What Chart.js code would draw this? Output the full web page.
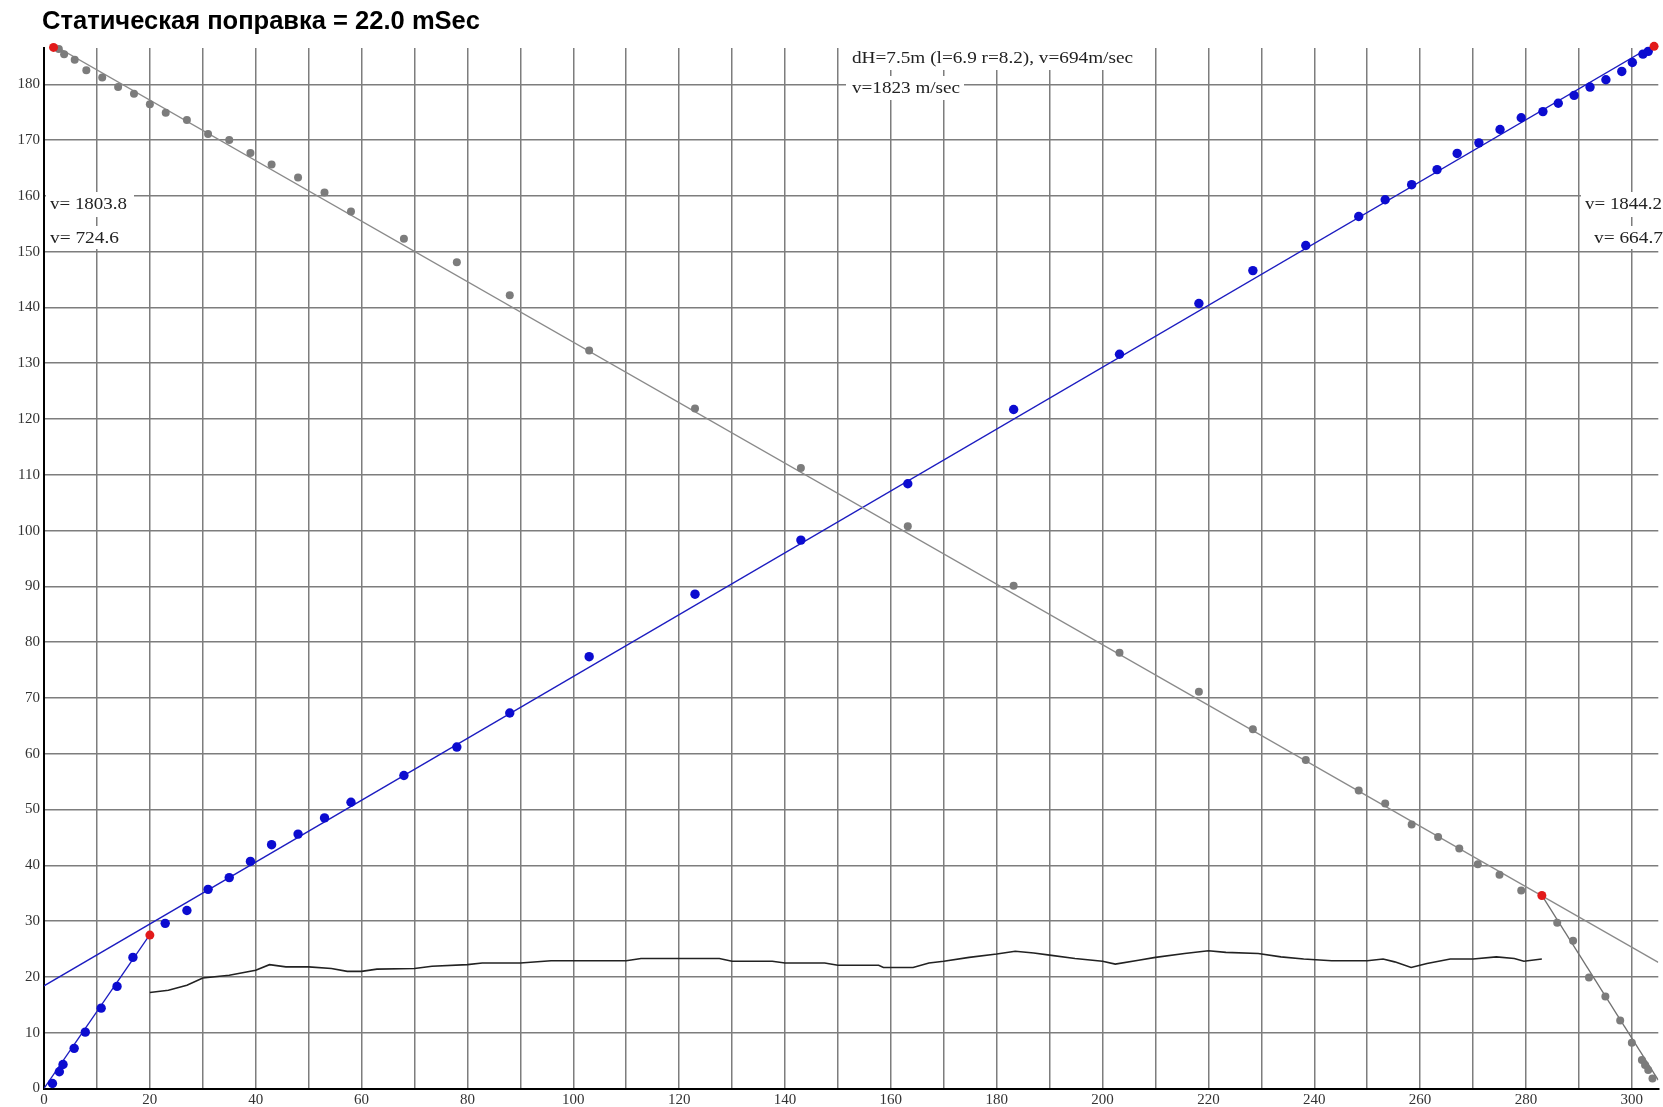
<!DOCTYPE html>
<html><head><meta charset="utf-8">
<script src="https://cdn.jsdelivr.net/npm/chart.js@4.4.0/dist/chart.umd.min.js"></script>
<style>html,body{margin:0;padding:0;background:#fff;overflow:hidden}canvas{display:block}</style>
</head><body>
<canvas id="c" width="1663" height="1107"></canvas>
<script>
// ---- data ----
const titleText = 'Статическая поправка = 22.0 mSec';
const annotTexts = ['dH=7.5m (l=6.9 r=8.2), v=694m/sec', 'v=1823 m/sec', 'v= 1803.8', 'v= 724.6', 'v= 1844.2', 'v= 664.7'];
const xTickLabels = [0, 20, 40, 60, 80, 100, 120, 140, 160, 180, 200, 220, 240, 260, 280, 300];
const yTickLabels = [0, 10, 20, 30, 40, 50, 60, 70, 80, 90, 100, 110, 120, 130, 140, 150, 160, 170, 180];

const blueX = [1.6, 2.9, 3.6, 5.7, 7.8, 10.8, 13.8, 16.8, 22.9, 27, 31, 35, 39, 43, 48, 53, 58, 68, 78, 88, 103, 123, 143, 163.2, 183.2, 203.2, 218.2, 228.4, 238.4, 248.4, 253.4, 258.4, 263.2, 267.0, 271.1, 275.1, 279.1, 283.2, 286.1, 289.1, 292.1, 295.1, 298.1, 300.1, 302.1, 303.1];
const blueY = [0.9, 3.0, 4.3, 7.2, 10.1, 14.4, 18.3, 23.5, 29.6, 31.9, 35.7, 37.8, 40.7, 43.7, 45.6, 48.5, 51.3, 56.1, 61.2, 67.3, 77.4, 88.6, 98.3, 108.4, 121.7, 131.6, 140.7, 146.6, 151.1, 156.3, 159.3, 162.0, 164.7, 167.6, 169.5, 171.9, 174.0, 175.1, 176.6, 178.0, 179.5, 180.8, 182.3, 183.9, 185.4, 185.9];

const grayX = [2.8, 3.8, 5.8, 8, 11, 14, 17, 20, 23, 27, 31, 35, 39, 43, 48, 53, 58, 68, 78, 88, 103, 123, 143, 163.2, 183.2, 203.2, 218.2, 228.4, 238.4, 248.4, 253.4, 258.4, 263.4, 267.4, 270.9, 275.0, 279.1, 285.9, 288.9, 291.9, 295.0, 297.8, 300.0, 301.9, 302.5, 303.1, 303.9];
const grayY = [186.3, 185.4, 184.4, 182.5, 181.2, 179.5, 178.3, 176.4, 174.9, 173.6, 171.1, 170.0, 167.7, 165.6, 163.3, 160.6, 157.2, 152.3, 148.1, 142.2, 132.3, 121.9, 111.2, 100.8, 90.1, 78.1, 71.1, 64.4, 58.9, 53.4, 51.1, 47.3, 45.1, 43.0, 40.2, 38.3, 35.5, 29.7, 26.5, 19.9, 16.5, 12.2, 8.2, 5.1, 4.2, 3.3, 1.8];

const redX = [1.8, 20, 283, 304.2];
const redY = [186.6, 27.5, 34.6, 186.8];

const blueSteepX = [0, 20];
const blueSteepY = [0, 27.6];
const blueLongX = [0, 305];
const blueLongY = [18.4, 187.5];
const graySteepX = [283, 305];
const graySteepY = [34.6, 1.5];
const grayLongX = [0, 305];
const grayLongY = [188, 22.6];

const delayX = [20, 23.5, 27, 30, 35, 40, 42.6, 45.7, 50, 54.3, 57.3, 60, 62.9, 70, 73.3, 80, 82.8, 90, 95.8, 100, 110, 112.8, 120, 127.6, 130, 137.6, 140, 147.5, 150, 151.6, 157.7, 158.6, 164.2, 167.2, 170, 174.8, 180, 183.5, 187, 190, 194.8, 200, 202.4, 206.8, 210, 215.5, 220, 223.3, 229.4, 233.7, 238, 243.3, 250, 253, 255.2, 258.3, 261.3, 265.7, 270, 274.4, 277.8, 279.6, 283];
const delayY = [17.2, 17.6, 18.5, 19.8, 20.3, 21.2, 22.2, 21.8, 21.8, 21.5, 21.0, 21.0, 21.4, 21.5, 21.9, 22.2, 22.5, 22.5, 22.9, 22.9, 22.9, 23.3, 23.3, 23.3, 22.8, 22.8, 22.5, 22.5, 22.1, 22.1, 22.1, 21.7, 21.7, 22.5, 22.8, 23.5, 24.1, 24.6, 24.3, 23.9, 23.3, 22.8, 22.3, 23.0, 23.5, 24.2, 24.7, 24.4, 24.2, 23.6, 23.2, 22.9, 22.9, 23.2, 22.7, 21.7, 22.4, 23.2, 23.2, 23.6, 23.3, 22.8, 23.2];

// ---- helpers ----
const pts = (xs, ys) => xs.map((x, i) => ({x, y: ys[i]}));

function fitText(ctx, text, x, y, w, font, color) {
  ctx.save();
  ctx.font = font;
  ctx.fillStyle = color;
  ctx.textBaseline = 'middle';
  ctx.textAlign = 'left';
  const m = ctx.measureText(text).width;
  ctx.translate(x, y);
  ctx.scale(w / m, 1);
  ctx.fillText(text, 0, 0);
  ctx.restore();
}

const annotPlugin = {
  id: 'annot',
  beforeDatasetsDraw(chart) {
    const ctx = chart.ctx;
    // [textIndex, textLeft, centerY, width, boxLeft, boxRight, boxTop, boxBottom]
    const specs = [
      [0, 852, 59, 281, 846, 1140, 48, 70],
      [1, 852, 89, 108, 846, 964, 76, 100],
      [2, 50, 205, 77, 46, 134, 192, 217],
      [3, 50, 239, 69, 46, 126, 226, 249],
      [4, 1585, 205, 77, 1581, 1663, 192, 217],
      [5, 1594, 239, 69, 1590, 1663, 226, 249]
    ];
    ctx.save();
    ctx.fillStyle = '#ffffff';
    specs.forEach(s => ctx.fillRect(s[4], s[6], s[5] - s[4], s[7] - s[6]));
    ctx.restore();
    specs.forEach(s => fitText(ctx, annotTexts[s[0]], s[1], s[2], s[3], '16px "Liberation Serif"', '#222'));
  },
  afterDraw(chart) {
    fitText(chart.ctx, titleText, 42, 22, 438, 'bold 25px "Liberation Sans"', '#000');
  }
};

const lineDs = (xs, ys, color, w) => ({
  type: 'scatter', data: pts(xs, ys), showLine: true, borderColor: color, borderWidth: w,
  pointRadius: 0, fill: false, order: 2, tension: 0
});
const dotDs = (xs, ys, color, r) => ({
  type: 'scatter', data: pts(xs, ys), showLine: false, backgroundColor: color, borderColor: color,
  borderWidth: 0, pointRadius: r, order: 1, clip: false
});

new Chart(document.getElementById('c'), {
  type: 'scatter',
  data: {
    datasets: [
      lineDs(grayLongX, grayLongY, '#8a8a8a', 1.3),
      lineDs(graySteepX, graySteepY, '#707070', 1.3),
      lineDs(blueLongX, blueLongY, '#1c1cc0', 1.3),
      lineDs(blueSteepX, blueSteepY, '#1c1cc0', 1.3),
      lineDs(delayX, delayY, '#222222', 1.6),
      dotDs(grayX, grayY, '#7c7c7c', 4),
      dotDs(blueX, blueY, '#0c0cd0', 4.7),
      Object.assign(dotDs(redX, redY, '#e21a1a', 4.5), {order: 0})
    ]
  },
  options: {
    responsive: false,
    devicePixelRatio: 1,
    animation: false,
    events: [],
    layout: {padding: {top: 48, left: 0, right: 0, bottom: 0}},
    plugins: {legend: {display: false}, tooltip: {enabled: false}, title: {display: false}},
    scales: {
      x: {
        type: 'linear', min: 0, max: 305,
        afterFit: s => { s.height = 18.5; },
        border: {display: true, color: '#000', width: 2},
        grid: {color: '#7d7d7d', lineWidth: 1.5, drawTicks: false, tickLength: 0},
        ticks: {
          stepSize: 10, includeBounds: false, autoSkip: false, maxRotation: 0, padding: 3,
          color: '#333', font: {family: 'Liberation Serif', size: 15},
          callback: v => xTickLabels.includes(v) ? String(v) : ''
        }
      },
      y: {
        type: 'linear', min: 0, max: 186.5,
        afterFit: s => { s.width = 44; },
        border: {display: true, color: '#000', width: 2},
        grid: {color: '#7d7d7d', lineWidth: 1.5, drawTicks: false, tickLength: 0},
        ticks: {
          stepSize: 10, includeBounds: false, autoSkip: false, padding: 4,
          color: '#333', font: {family: 'Liberation Serif', size: 15},
          callback: v => yTickLabels.includes(v) ? String(v) : ''
        }
      }
    }
  },
  plugins: [annotPlugin]
});
</script>
</body></html>
